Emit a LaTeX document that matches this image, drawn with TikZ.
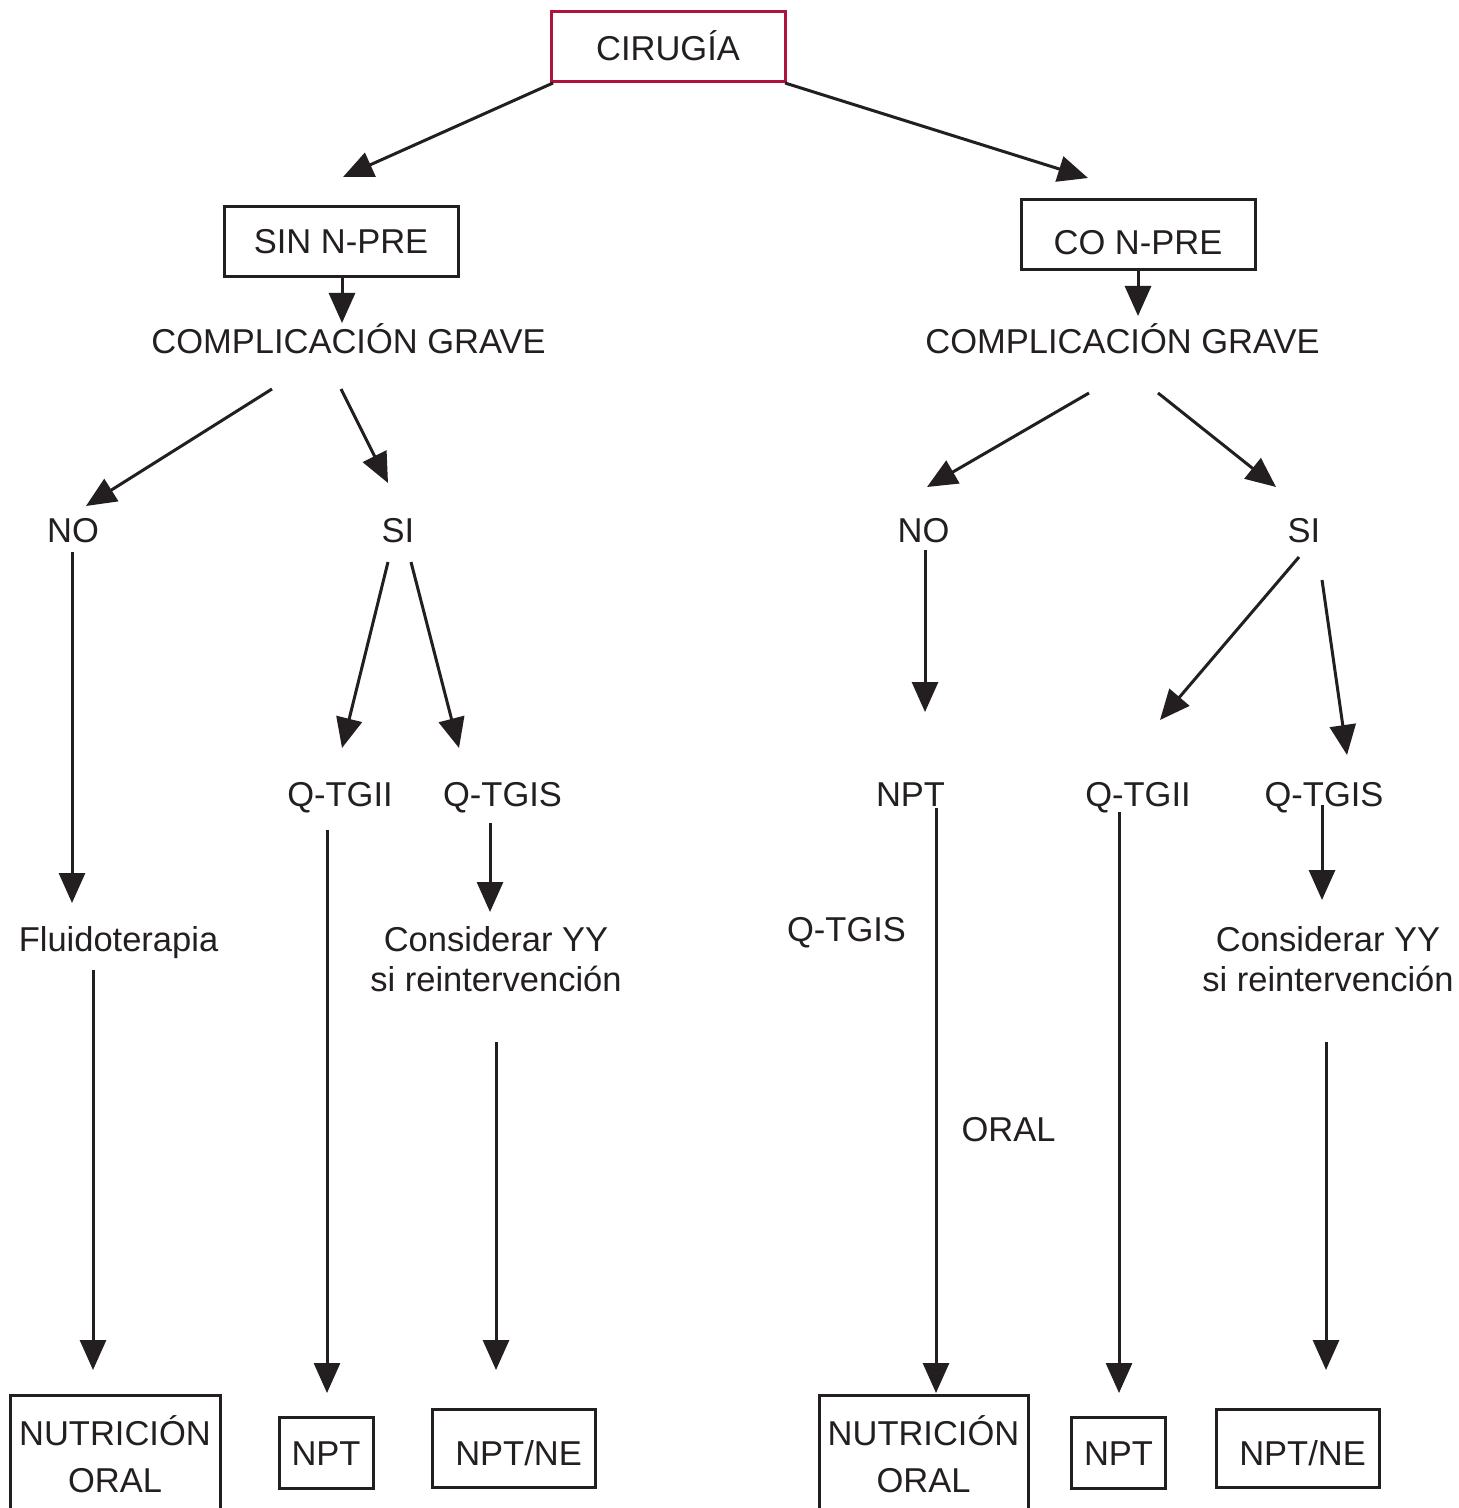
\documentclass[tikz,border=0pt]{standalone}
\usepackage{fontspec}
\setmainfont{Liberation Sans}
\usetikzlibrary{arrows.meta}
\definecolor{ink}{HTML}{231F20}
\definecolor{crim}{RGB}{176,18,60}
\begin{document}
\begin{tikzpicture}[x=0.5pt,y=-0.5pt,
  every node/.style={font=\fontsize{17.25}{20}\selectfont, text=ink},
  txt/.style={anchor=base, inner sep=0pt},
  box/.style={draw=ink, line width=1.5pt, inner sep=0pt, text depth=0pt},
  arr/.style={draw=ink, line width=1.5pt, -{Triangle[length=15pt,width=13pt]}}]
\useasboundingbox (0,0) rectangle (1458,1508);
\fill[white] (0,0) rectangle (1458,1508);
\clip (0,0) rectangle (1458,1508);

% ---- boxes ----
\node[box, draw=crim, minimum width=117pt, minimum height=35pt, text height=14pt] (cir) at (668,47) {CIRUGÍA};
\node[box, minimum width=117pt, minimum height=35pt, text height=12pt] (sin) at (341,242) {SIN N-PRE};
\node[box, minimum width=117pt, minimum height=35pt, text height=20pt] (con) at (1138,235) {CO N-PRE};

\node[box, minimum width=105pt, minimum height=85pt, anchor=north] (nutL) at (115,1394) {};
\node[box, minimum width=104.5pt, minimum height=85pt, anchor=north] (nutR) at (923.5,1394) {};
\node[box, minimum width=47pt, minimum height=35.5pt, text height=12.5pt] (nptL) at (326,1452.5) {NPT};
\node[box, minimum width=47pt, minimum height=35.5pt, text height=12.5pt] (nptR) at (1118.5,1452.5) {NPT};
\node[box, minimum width=81.5pt, minimum height=39pt, text height=17pt] (nneL) at (513.5,1448) {\hspace{5pt}NPT/NE};
\node[box, minimum width=81.5pt, minimum height=39pt, text height=17pt] (nneR) at (1297.5,1448) {\hspace{5pt}NPT/NE};

% ---- plain texts ----
\node[txt] (nutL1) at (115,1445) {NUTRICIÓN};
\node[txt] (nutL2) at (115,1492) {ORAL};
\node[txt] (nutR1) at (923.5,1445) {NUTRICIÓN};
\node[txt] (nutR2) at (923.5,1492) {ORAL};

\node[txt] (cgL) at (348.5,354) {COMPLICACIÓN GRAVE};
\node[txt] (cgR) at (1122.5,354) {COMPLICACIÓN GRAVE};
\node[txt] (noL) at (73,542) {NO};
\node[txt] (siL) at (398,542) {SI};
\node[txt] (noR) at (923.5,542) {NO};
\node[txt] (siR) at (1304,542) {SI};
\node[txt] (qtgiiL) at (340,806) {Q-TGII};
\node[txt] (qtgisL) at (502.5,806) {Q-TGIS};
\node[txt] (nptM) at (910.5,806) {NPT};
\node[txt] (qtgiiR) at (1138,806) {Q-TGII};
\node[txt] (qtgisR) at (1324,806) {Q-TGIS};
\node[txt] (fluido) at (118.5,951) {Fluidoterapia};
\node[txt] (consL1) at (496,951) {Considerar YY};
\node[txt] (consL2) at (496,991) {si reintervención};
\node[txt] (consR1) at (1328,951) {Considerar YY};
\node[txt] (consR2) at (1328,991) {si reintervención};
\node[txt] (qtgisM) at (846.5,941) {Q-TGIS};
\node[txt] (oral) at (1008.5,1141) {ORAL};

% ---- connector end points ----
\coordinate (a1s) at (553,83);   \coordinate (a1e) at (343,177);
\coordinate (a2s) at (785,83);   \coordinate (a2e) at (1088,178);
\coordinate (a3s) at (342,277);  \coordinate (a3e) at (342,323);
\coordinate (a4s) at (272,389);  \coordinate (a4e) at (86,506);
\coordinate (a5s) at (341,389);  \coordinate (a5e) at (388,483);
\coordinate (a6s) at (72,552);   \coordinate (a6e) at (72,903);
\coordinate (a7s) at (93,970);   \coordinate (a7e) at (93,1370);
\coordinate (a8s) at (388,562);  \coordinate (a8e) at (342,748);
\coordinate (a9s) at (411,562);  \coordinate (a9e) at (459,748);
\coordinate (a10s) at (327,830); \coordinate (a10e) at (327,1393);
\coordinate (a11s) at (490,823); \coordinate (a11e) at (490,912);
\coordinate (a12s) at (496,1042);\coordinate (a12e) at (496,1370);
\coordinate (b3s) at (1138,270); \coordinate (b3e) at (1138,316);
\coordinate (b4s) at (1089,393); \coordinate (b4e) at (927,487);
\coordinate (b5s) at (1158,393); \coordinate (b5e) at (1276,487);
\coordinate (b6s) at (925,550);  \coordinate (b6e) at (925,712);
\coordinate (b7s) at (936,808);  \coordinate (b7e) at (936,1393);
\coordinate (b8s) at (1299,557); \coordinate (b8e) at (1160,720);
\coordinate (b9s) at (1322,580); \coordinate (b9e) at (1347,755);
\coordinate (b10s) at (1119,812);\coordinate (b10e) at (1119,1393);
\coordinate (b11s) at (1322,805);\coordinate (b11e) at (1322,900);
\coordinate (b12s) at (1326,1042);\coordinate (b12e) at (1326,1370);

% ---- connectors ----
\foreach \c in {a1,a2,a3,a4,a5,a6,a7,a8,a9,a10,a11,a12,b3,b4,b5,b6,b7,b8,b9,b10,b11,b12}
  \draw[arr] (\c s) -- (\c e);
\end{tikzpicture}
\end{document}
